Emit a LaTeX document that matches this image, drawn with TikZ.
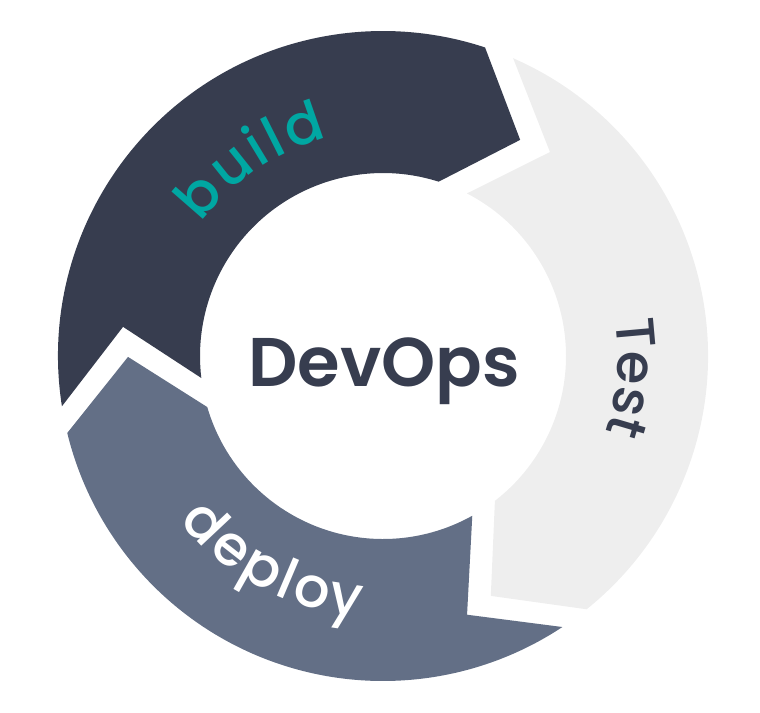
\documentclass[tikz,border=0pt]{standalone}
\usepackage{fontspec}
\usepackage{xcolor}
\usepackage{tikz}
\usetikzlibrary{decorations.text}
\newfontfamily\arcfont{Poppins Medium}
\newfontfamily\titlefont{Poppins SemiBold}

\definecolor{buildnavy}{HTML}{373D4F}
\definecolor{testgray}{HTML}{EEEEEE}
\definecolor{deployslate}{HTML}{636F86}
\definecolor{buildteal}{HTML}{00A7A2}

\begin{document}
\begin{tikzpicture}[
    % --- Ring segment style ---
    ringseg/.style={fill=#1, draw=none},
    % --- Arc label style ---
    arclbl/.style={decorate, decoration={text along path, text align=center,
        text color=#1}},
    % --- Centre title ---
    title/.style={font=\titlefont\fontsize{19.6}{20}\selectfont, text=buildnavy,
        inner sep=0pt},
]
\useasboundingbox (-3.83,-3.56) rectangle (3.77,3.56);

% =============================================
%  SEGMENT 1: build (dark)
% =============================================
\fill[ringseg=buildnavy] (188.9:3.25) arc[start angle=188.9, end angle=71.7, radius=3.25]
    -- (57.6:2.56) -- (72.3:1.83) arc[start angle=72.3, end angle=186.9, radius=1.83]
    -- (173.6:2.616) -- cycle;

% =============================================
%  SEGMENT 2: Test (light)
% =============================================
\fill[ringseg=testgray] (66.4:3.25) arc[start angle=66.4, end angle=-51.2, radius=3.25]
    -- (-65.8:2.63) -- (-52.3:1.83) arc[start angle=-52.3, end angle=62.7, radius=1.83]
    -- (50.7:2.636) -- cycle;

% =============================================
%  SEGMENT 3: deploy (slate)
% =============================================
\fill[ringseg=deployslate] (-56.5:3.25) arc[start angle=-56.5, end angle=-166.3, radius=3.25]
    -- (-179.8:2.55) -- (-163.8:1.83) arc[start angle=-163.8, end angle=-60.8, radius=1.83]
    -- (-72:2.72) -- cycle;

% =============================================
%  Labels (letter-spaced with small kerns)
% =============================================
\path[arclbl=buildteal, decoration={text={|\arcfont\fontsize{16}{16}\selectfont|%
    b{\kern0.9pt}u{\kern0.9pt}i{\kern0.9pt}l{\kern0.9pt}d}}]
    (159:2.25) arc[start angle=159, end angle=89, radius=2.25];
\path[arclbl=buildnavy, decoration={text={|\arcfont\fontsize{15.5}{16}\selectfont|Test}}]
    (25:2.35) arc[start angle=25, end angle=-35, radius=2.35];
\path[arclbl=white, decoration={text={|\arcfont\fontsize{16}{16}\selectfont|%
    d{\kern0.9pt}e{\kern0.9pt}p{\kern0.9pt}l{\kern0.9pt}o{\kern0.9pt}y}}]
    (200:2.62) arc[start angle=200, end angle=284, radius=2.62];

\node[title, anchor=base] (devops) at (0.01,-0.30) {DevOps};

\end{tikzpicture}
\end{document}
